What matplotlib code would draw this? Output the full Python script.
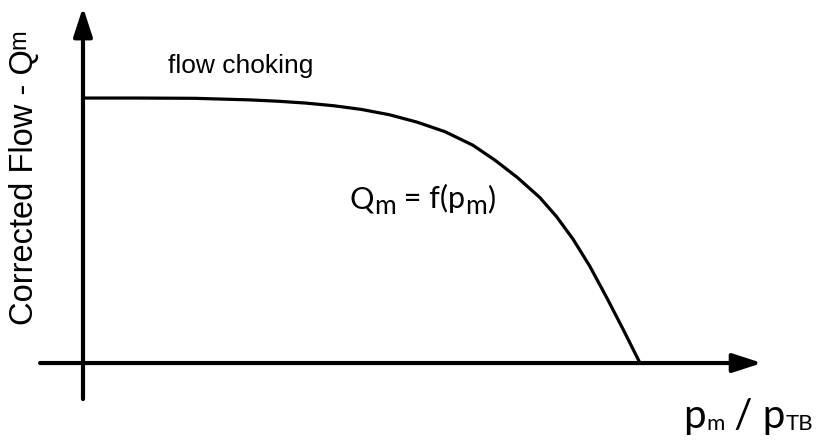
import matplotlib.pyplot as plt
from matplotlib.transforms import IdentityTransform

# Corrected flow characteristic: flat (choked) region, then falling to zero
pressure_ratio = [0.0, 0.10, 0.20, 0.30, 0.35, 0.40, 0.45, 0.50, 0.55, 0.60,
                  0.65, 0.70, 0.74, 0.78, 0.82, 0.85, 0.88, 0.91, 0.94, 0.97,
                  1.0]
corrected_flow = [1.0, 1.0, 0.999, 0.993, 0.988, 0.981, 0.971, 0.957, 0.937,
                  0.909, 0.873, 0.822, 0.765, 0.700, 0.625, 0.553, 0.467,
                  0.365, 0.248, 0.126, 0.0]

# Axis extents (arrows) in data units
x_axis = (-0.077, 1.219)
y_axis = (-0.136, 1.343)


def draw_pieces(ax, x, y, pieces, rotation=0, family='Liberation Sans'):
    """Write a label as consecutive pieces (text, size, rise in px) so that
    sub/superscripts can be sized and placed freely."""
    renderer = ax.figure.canvas.get_renderer()
    px, py = ax.transData.transform((x, y))
    for text, size, rise in pieces:
        if rotation == 90:
            pos = (px - rise, py)
        else:
            pos = (px, py + rise)
        t = ax.text(pos[0], pos[1], text, transform=IdentityTransform(),
                    fontsize=size, family=family, rotation=rotation,
                    rotation_mode='anchor', ha='left', va='baseline')
        bb = t.get_window_extent(renderer)
        if rotation == 90:
            py = bb.y1
        else:
            px = bb.x1


fig = plt.figure(figsize=(8.21, 4.42), dpi=100)
ax = fig.add_axes([0, 0, 1, 1])
ax.set_xlim(-0.149, 1.325)
ax.set_ylim(-0.298, 1.370)
ax.axis('off')

arrow = dict(arrowstyle='-|>,head_length=0.4,head_width=0.13', lw=3,
             color='black', mutation_scale=44, shrinkA=0, shrinkB=0)
ax.annotate('', xy=(x_axis[1], 0), xytext=(x_axis[0], 0), arrowprops=arrow)
ax.annotate('', xy=(0, y_axis[1]), xytext=(0, y_axis[0]), arrowprops=arrow)

ax.plot(pressure_ratio, corrected_flow, color='black', lw=2.3,
        solid_capstyle='butt', solid_joinstyle='round')

ax.text(0.153, 1.094, 'flow choking', family='Liberation Sans', fontsize=19,
        ha='left', va='baseline')

draw_pieces(ax, -0.0898, 0.143,
            [('Corrected Flow - Q', 23.5, 0), ('m', 17, 8)], rotation=90)
draw_pieces(ax, 0.479, 0.585,
            [('Q', 22, 0), ('m', 19, -6), (' = f(p', 22, 0), ('m', 19, -6),
             (')', 22, 0)], family='Lato')
draw_pieces(ax, 1.078, -0.245,
            [('p', 29, 0), ('m', 16, -2), (' / p', 29, 0), ('TB', 16, -2)],
            family='Lato')

fig.savefig('out.png', dpi=100)
